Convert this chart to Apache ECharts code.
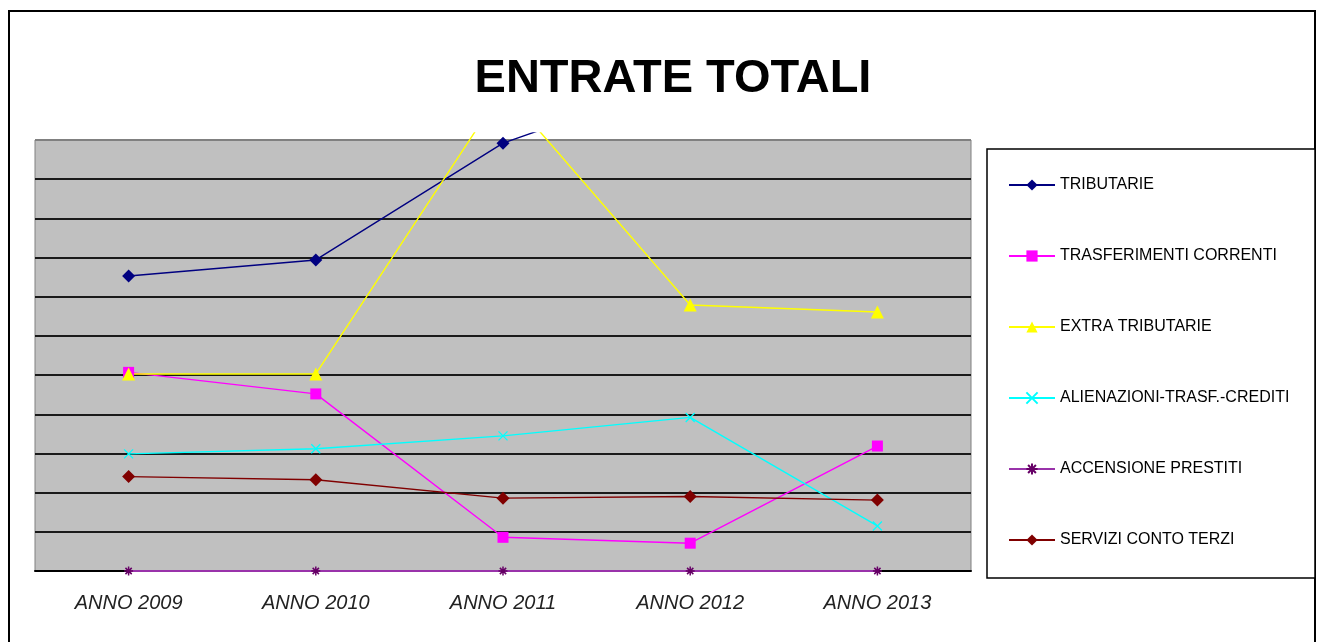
<!DOCTYPE html>
<html>
<head>
<meta charset="utf-8">
<script src="https://cdn.jsdelivr.net/npm/echarts@6/dist/echarts.min.js"></script>
<style>
  html, body { margin: 0; padding: 0; background: #fff; }
  #chart { width: 1317px; height: 642px; }
</style>
</head>
<body>
<div id="chart"></div>
<script>
// categorie (anni)
var categories = ["ANNO 2009", "ANNO 2010", "ANNO 2011", "ANNO 2012", "ANNO 2013"];

// valori (unità = una riga di griglia, nessuna scala visibile)
var tributarie = [7.53, 7.94, 10.92, 12.6, 12.9];
var trasferimentiCorrenti = [5.07, 4.52, 0.86, 0.71, 3.19];
var extraTributarie = [5.03, 5.03, 12.3, 6.79, 6.61];
var alienazioni = [2.99, 3.12, 3.45, 3.92, 1.15];
var accensionePrestiti = [0, 0, 0, 0, 0];
var serviziContoTerzi = [2.41, 2.33, 1.86, 1.9, 1.81];

var FONT = "Liberation Sans, Arial, sans-serif";
var GRID_STEPS = 11;

var chart = echarts.init(document.getElementById("chart"));

// colori righe di griglia: l'ultima (bordo superiore) è grigia
var splitColors = [];
for (var i = 0; i < GRID_STEPS; i++) splitColors.push("#1a1a1a");
splitColors.push("#808080");

function serie(name, data, color, symbol, size, extra) {
  var s = {
    name: name,
    type: "line",
    xAxisIndex: 1,
    yAxisIndex: 1,
    data: data,
    symbol: symbol,
    symbolSize: size,
    lineStyle: { color: color, width: 1.4 },
    itemStyle: { color: color },
    emphasis: { disabled: true },
    z: 5,
  };
  if (extra) Object.assign(s, extra);
  return s;
}

var option = {
  animation: false,
  textStyle: { fontFamily: FONT },
  title: {
    text: "ENTRATE TOTALI",
    left: 668,
    textAlign: "center",
    top: 51,
    textStyle: { fontSize: 47, fontWeight: "bold", color: "#000", fontFamily: FONT },
  },
  graphic: [
    {
      type: "rect",
      shape: { x: 9, y: 11, width: 1306, height: 640 },
      style: { fill: "none", stroke: "#000", lineWidth: 2 },
      z: -10,
    },
    {
      type: "rect",
      shape: { x: 987, y: 149, width: 328, height: 429 },
      style: { fill: "#fff", stroke: "#000", lineWidth: 1.5 },
      z: -5,
    },
  ],
  legend: {
    orient: "vertical",
    left: 1008,
    top: 177,
    itemWidth: 46,
    itemHeight: 14,
    itemGap: 55,
    padding: 0,
    textStyle: { fontSize: 16, color: "#000", fontFamily: FONT },
  },
  grid: [
    {
      left: 35, right: 346, top: 140, bottom: 71,
      show: true,
      backgroundColor: "#C0C0C0",
      borderColor: "#808080",
      borderWidth: 1,
    },
    { left: 35, right: 346, top: 133, bottom: 71 },
  ],
  xAxis: [
    {
      gridIndex: 0,
      type: "category",
      data: categories,
      boundaryGap: true,
      axisLine: { lineStyle: { color: "#000", width: 2 } },
      axisTick: { length: 7, lineStyle: { color: "#000", width: 1.5 } },
      axisLabel: {
        margin: 22,
        fontSize: 20,
        fontStyle: "italic",
        color: "#222",
        fontFamily: FONT,
      },
    },
    {
      gridIndex: 1,
      type: "category",
      data: categories,
      boundaryGap: true,
      show: false,
    },
  ],
  yAxis: [
    {
      gridIndex: 0,
      type: "value",
      min: 0,
      max: GRID_STEPS,
      interval: 1,
      axisLine: { show: false },
      axisTick: { show: false },
      axisLabel: { show: false },
      splitLine: { lineStyle: { color: splitColors, width: 2 } },
    },
    {
      gridIndex: 1,
      type: "value",
      min: 0,
      max: 11.18,
      show: false,
      splitLine: { show: false },
    },
  ],
  series: [
    serie("TRIBUTARIE", tributarie, "#000080", "diamond", 13),
    serie("TRASFERIMENTI CORRENTI", trasferimentiCorrenti, "#FF00FF", "rect", 11),
    serie("EXTRA TRIBUTARIE", extraTributarie, "#FFFF00", "triangle", 13),
    serie("ALIENAZIONI-TRASF.-CREDITI", alienazioni, "#00FFFF",
      "path://M0,0L10,10M10,0L0,10", 9,
      { itemStyle: { color: "#00FFFF", borderColor: "#00FFFF", borderWidth: 1.3 } }),
    serie("ACCENSIONE PRESTITI", accensionePrestiti, "#9933AA",
      "path://M5,0L5,10M0,5L10,5M1.5,1.5L8.5,8.5M8.5,1.5L1.5,8.5", 9,
      {
        lineStyle: { color: "#9933AA", width: 2 },
        itemStyle: { color: "#660066", borderColor: "#660066", borderWidth: 1.5 },
      }),
    serie("SERVIZI CONTO TERZI", serviziContoTerzi, "#800000", "diamond", 13),
  ],
};

chart.setOption(option);
</script>
</body>
</html>
